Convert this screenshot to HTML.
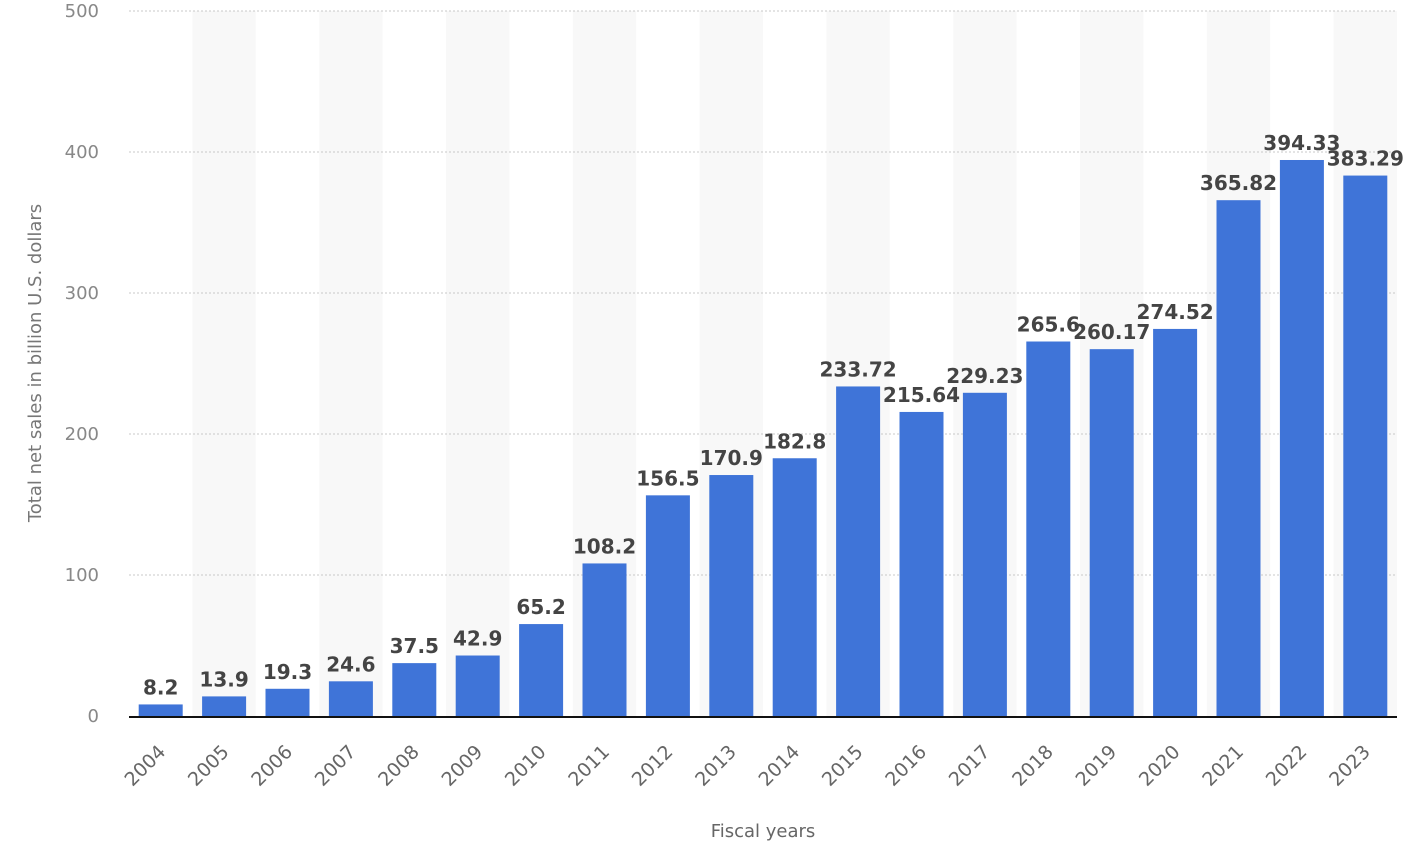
<!DOCTYPE html>
<html><head><meta charset="utf-8"><style>body{margin:0;background:#fff}svg{display:block;font-family:"DejaVu Sans","Liberation Sans",sans-serif}</style></head><body>
<svg width="1410" height="846" xmlns="http://www.w3.org/2000/svg" id="s"></svg>
<script>
const vals=[8.2,13.9,19.3,24.6,37.5,42.9,65.2,108.2,156.5,170.9,182.8,233.72,215.64,229.23,265.6,260.17,274.52,365.82,394.33,383.29];
const s=document.getElementById('s');let h='';
const x0=129,step=63.4,y0=716,sc=705/500;
for(let i=1;i<20;i+=2)h+=`<rect x="${x0+step*i}" y="11" width="${step}" height="${y0-11}" fill="#f8f8f8"/>`;
for(let v=100;v<=500;v+=100){const y=y0-v*sc;h+=`<line x1="${x0}" x2="1397" y1="${y}" y2="${y}" stroke="#c8c8c8" stroke-dasharray="2,2"/>`;}
for(let v=0;v<=500;v+=100){const y=y0-v*sc;h+=`<text x="99" y="${y+6}" text-anchor="end" font-size="18" fill="#888">${v}</text>`;}
vals.forEach((v,i)=>{const c=x0+step*(i+.5);const t=y0-v*sc;
h+=`<rect x="${c-22}" y="${t}" width="44" height="${y0-t}" fill="#3f74d8"/>`;
h+=`<text x="${c}" y="${t-10}" text-anchor="middle" font-size="20" font-weight="bold" fill="#444">${v}</text>`;
h+=`<text transform="translate(${c+6},${753}) rotate(-45)" text-anchor="end" font-size="19" fill="#666">${2004+i}</text>`;});
h+=`<line x1="${x0}" x2="1397" y1="${y0+1}" y2="${y0+1}" stroke="#111" stroke-width="2"/>`;
h+=`<text x="763" y="837" text-anchor="middle" font-size="18" fill="#666">Fiscal years</text>`;
h+=`<text transform="translate(41,363) rotate(-90)" text-anchor="middle" font-size="18" fill="#777">Total net sales in billion U.S. dollars</text>`;
s.innerHTML=h;
</script>
</body></html>
